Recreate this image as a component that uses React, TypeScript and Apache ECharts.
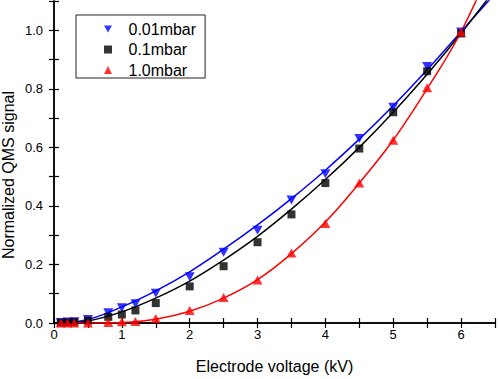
import React, { useEffect, useRef } from "react";
import * as echarts from "echarts";

const voltX = [0.1, 0.2, 0.3, 0.5, 0.8, 1.0, 1.2, 1.5, 2.0, 2.5, 3.0, 3.5, 4.0, 4.5, 5.0, 5.5, 6.0];
const blueVals = [0.002, 0.003, 0.004, 0.012, 0.035, 0.052, 0.066, 0.102, 0.158, 0.242, 0.317, 0.42, 0.51, 0.63, 0.737, 0.876, 0.994];
const blackVals = [0.001, 0.002, 0.003, 0.008, 0.021, 0.029, 0.043, 0.068, 0.125, 0.194, 0.276, 0.371, 0.478, 0.596, 0.72, 0.86, 0.989];
const redVals = [0.0, 0.0, 0.0, 0.0, 0.002, 0.004, 0.005, 0.015, 0.043, 0.0875, 0.147, 0.239, 0.34, 0.478, 0.624, 0.804, 0.994];

const fitX = [0.1, 0.5, 1.0, 1.5, 2.0, 2.5, 3.0, 3.5, 4.0, 4.5, 5.0, 5.5, 6.0, 6.5];
const blueFit = [0.0, 0.012, 0.055, 0.11, 0.175, 0.252, 0.335, 0.425, 0.522, 0.628, 0.742, 0.865, 0.995, 1.125];
const blackFit = [0.0, 0.007, 0.038, 0.085, 0.143, 0.215, 0.296, 0.389, 0.49, 0.6, 0.72, 0.85, 0.99, 1.14];
const redFit = [0.0, 0.0, 0.002, 0.013, 0.04, 0.085, 0.148, 0.237, 0.345, 0.478, 0.625, 0.8, 0.995, 1.25];

const seriesNames = ["0.01mbar", "0.1mbar", "1.0mbar"];
const xName = "Electrode voltage (kV)";
const yName = "Normalized QMS signal";

const FONT = "'Liberation Sans', Arial, Helvetica, sans-serif";
const DOWN_TRI = "path://M0,0L10,0L5,8.66Z";

const zip = (xs: number[], ys: number[]) => xs.map((x, i) => [x, ys[i]]);

export default function App() {
  const ref = useRef<HTMLDivElement>(null);
  useEffect(() => {
    if (!ref.current) return;
    const chart = echarts.init(ref.current, undefined, { renderer: "svg" });
    const axisLine = { show: true, lineStyle: { color: "#000", width: 1.5 } };
    const axisTick = { show: true, inside: true, length: 5, lineStyle: { color: "#000", width: 1.2 } };
    const lineSeries = (data: number[], color: string) => ({
      type: "line",
      data: zip(fitX, data),
      smooth: 0.4,
      showSymbol: false,
      symbol: "none",
      lineStyle: { color, width: 1.5 },
      silent: true,
      z: 2,
    });
    chart.setOption({
      animation: false,
      textStyle: { fontFamily: FONT },
      grid: { left: 54, right: 1, top: 1, bottom: 52, containLabel: false },
      legend: {
        data: seriesNames,
        orient: "vertical",
        left: 76,
        top: 15,
        padding: [6, 9, 0, 28],
        itemWidth: 8,
        itemHeight: 8,
        itemGap: 4.5,
        borderColor: "#222",
        borderWidth: 1,
        backgroundColor: "#fff",
        textStyle: { fontSize: 16, color: "#000", fontFamily: FONT, lineHeight: 16, padding: [0, 0, 0, 11.5] },
      },
      xAxis: [
        {
          type: "value",
          min: 0,
          max: 6.5,
          interval: 0.5,
          axisLine,
          axisTick,
          splitLine: { show: false },
          axisLabel: {
            fontSize: 13,
            color: "#000",
            margin: 5,
            fontFamily: FONT,
            formatter: (v: number) => (Math.abs(v - Math.round(v)) < 1e-6 ? String(Math.round(v)) : ""),
          },
          name: xName,
          nameLocation: "middle",
          nameGap: 35,
          nameTextStyle: { fontSize: 16, color: "#000", fontFamily: FONT },
        },
        {
          type: "value",
          position: "top",
          min: 0,
          max: 6.5,
          interval: 0.5,
          axisLine,
          axisTick,
          splitLine: { show: false },
          axisLabel: { show: false },
        },
      ],
      yAxis: [
        {
          type: "value",
          min: 0,
          max: 1.1,
          interval: 0.1,
          axisLine,
          axisTick,
          splitLine: { show: false },
          axisLabel: {
            fontSize: 13,
            color: "#000",
            margin: 11,
            fontFamily: FONT,
            formatter: (v: number) => (Math.round(v * 10) % 2 === 0 ? v.toFixed(1) : ""),
          },
        },
        {
          type: "value",
          position: "right",
          min: 0,
          max: 1.1,
          interval: 0.1,
          axisLine,
          axisTick,
          splitLine: { show: false },
          axisLabel: { show: false },
        },
      ],
      graphic: [
        {
          type: "text",
          x: 8.5,
          y: 175,
          rotation: Math.PI / 2,
          style: {
            text: yName,
            fontSize: 16,
            fontFamily: FONT,
            fill: "#000",
            align: "center",
            verticalAlign: "middle",
          },
        },
      ],
      series: [
        lineSeries(blueFit, "#0000ff"),
        lineSeries(blackFit, "#000000"),
        lineSeries(redFit, "#ff0000"),
        {
          name: seriesNames[0],
          type: "scatter",
          data: zip(voltX, blueVals),
          symbol: DOWN_TRI,
          symbolSize: [10, 9],
          itemStyle: { color: "#0000ff" },
          z: 3,
        },
        {
          name: seriesNames[1],
          type: "scatter",
          data: zip(voltX, blackVals),
          symbol: "rect",
          symbolSize: 8,
          itemStyle: { color: "#000000" },
          z: 3,
        },
        {
          name: seriesNames[2],
          type: "scatter",
          data: zip(voltX, redVals),
          symbol: "triangle",
          symbolSize: [10, 9],
          itemStyle: { color: "#ff0000" },
          z: 3,
        },
      ],
    });
    return () => chart.dispose();
  }, []);
  return <div ref={ref} style={{ width: 498, height: 379, position: "absolute", left: 0, top: 0 }} />;
}
